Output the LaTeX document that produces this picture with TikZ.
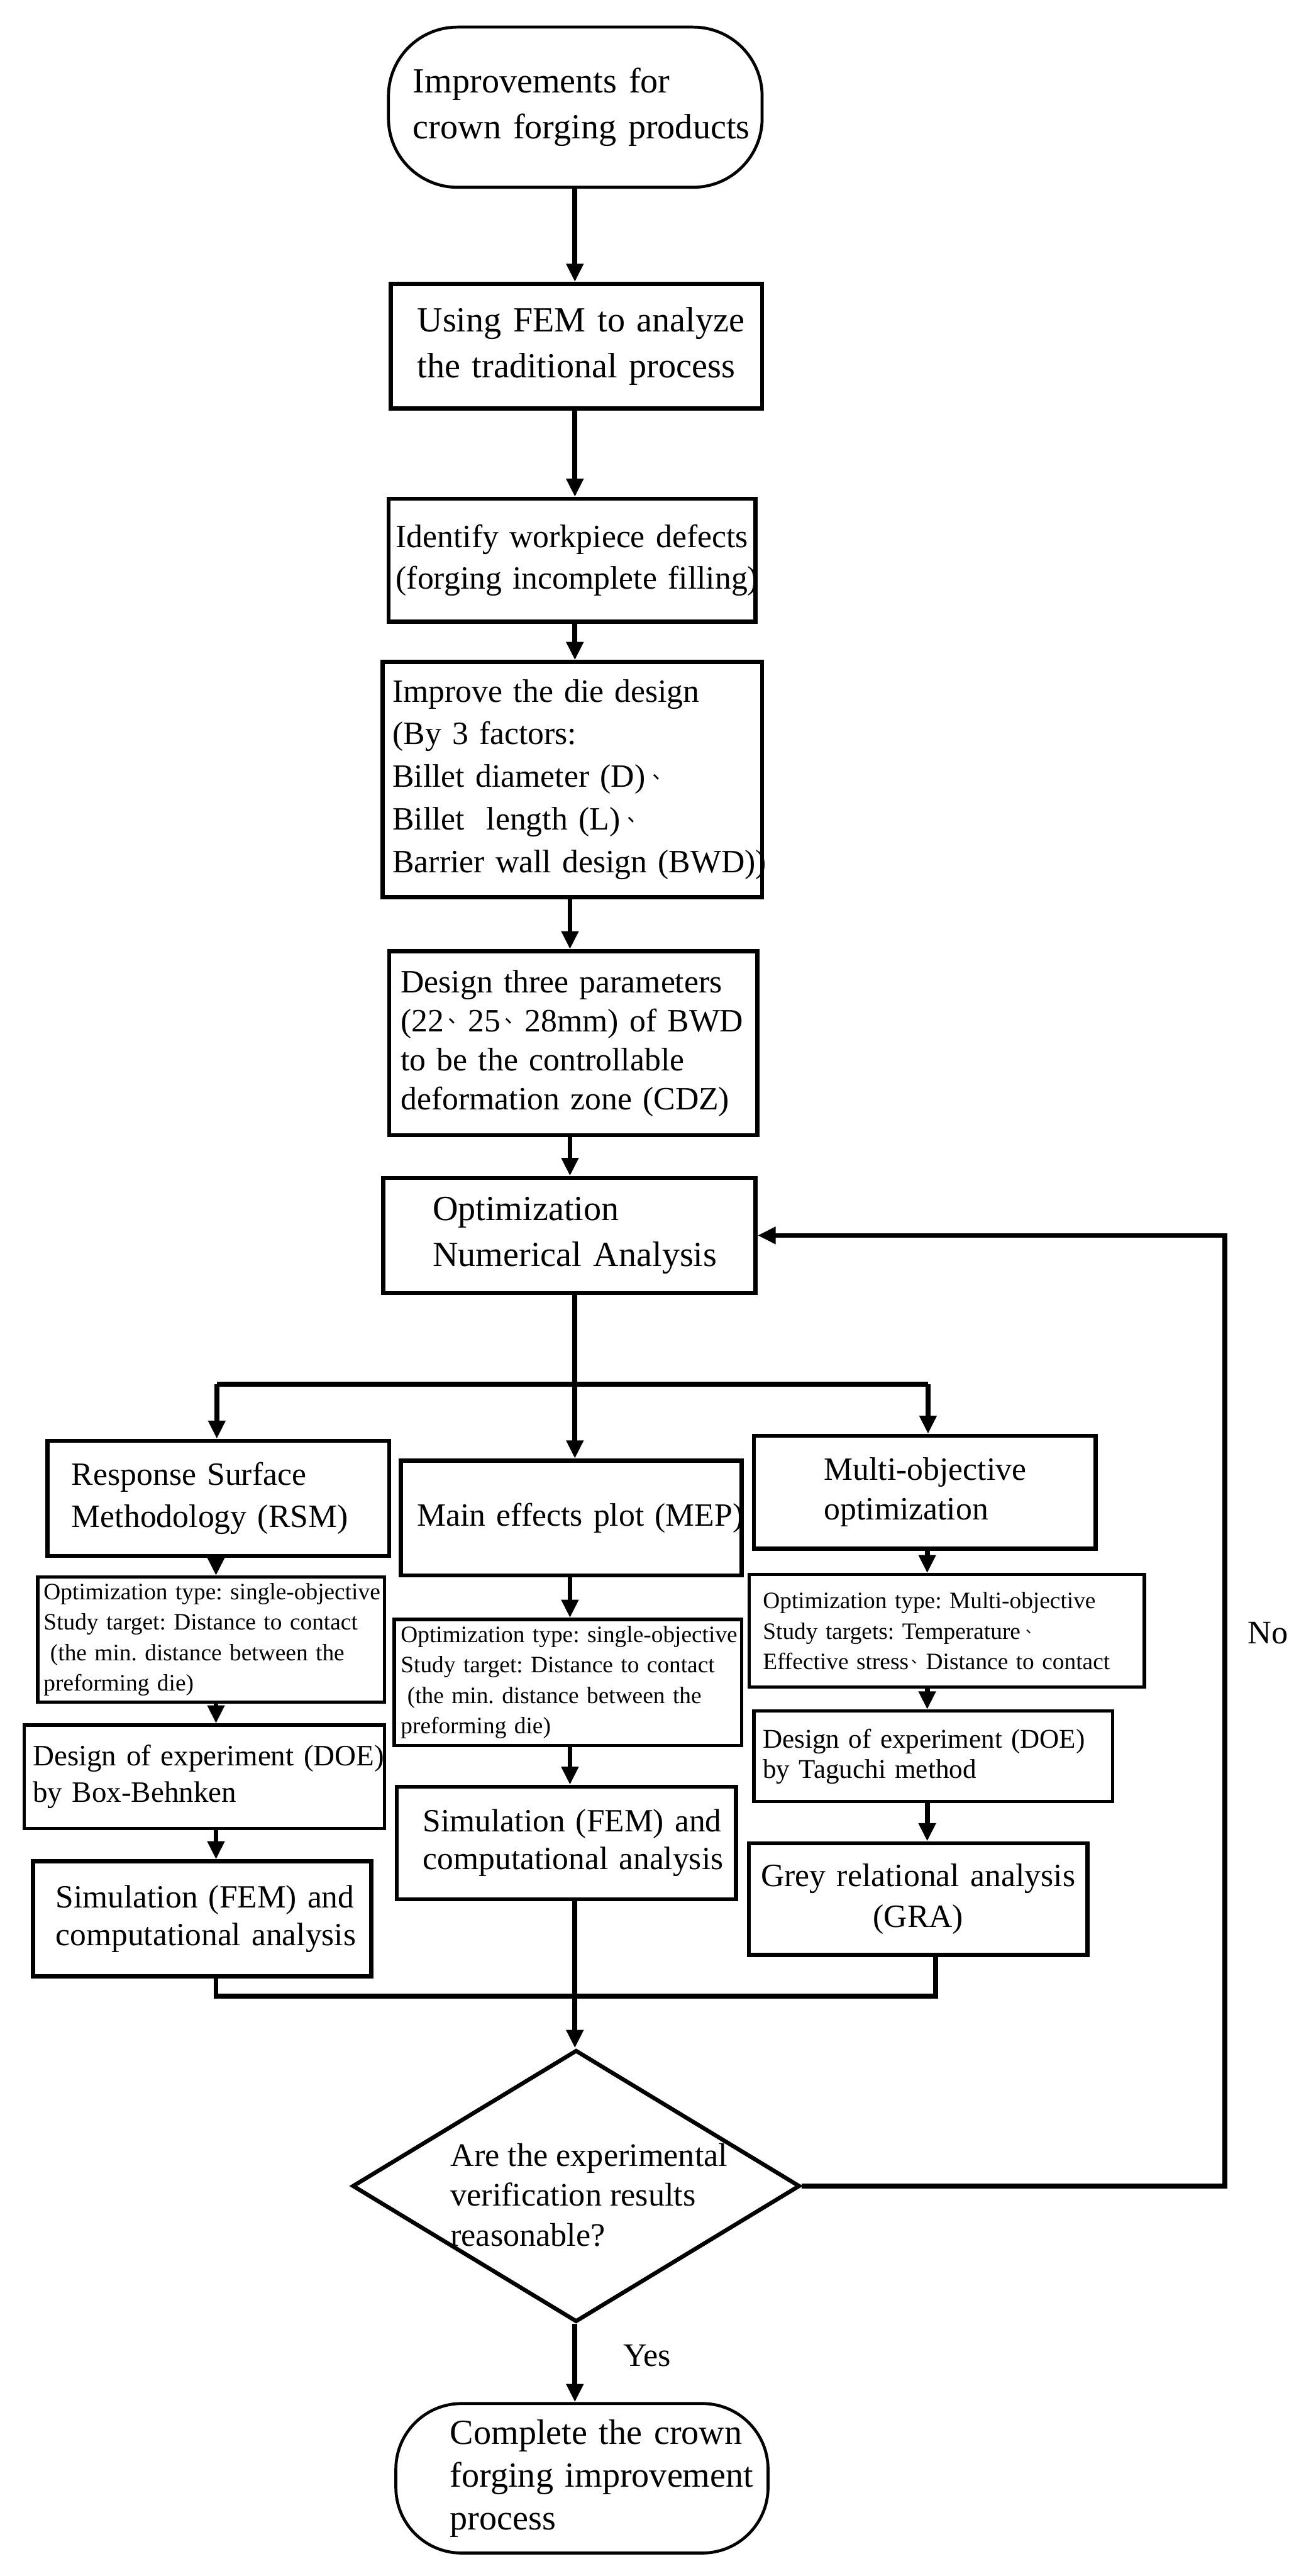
\documentclass[tikz,border=0pt]{standalone}
\usepackage{fontspec}
\setmainfont{Liberation Serif}
\newfontfamily\cjkfont{Noto Sans CJK SC}
\usetikzlibrary{arrows.meta,shapes.geometric}
\newcommand{\dun}{\hspace{0.12em}\raisebox{0.26em}{\cjkfont\fontsize{0.62em}{0.62em}\selectfont 、}}
\newcommand{\fA}{\fontsize{21.5}{28}\selectfont}
\newcommand{\fE}{\fontsize{21.5}{26}\selectfont}
\newcommand{\fB}{\fontsize{19.8}{25.5}\selectfont}
\newcommand{\fC}{\fontsize{19.8}{23.7}\selectfont}
\newcommand{\fS}{\fontsize{19.7}{23}\selectfont}
\newcommand{\fD}{\fontsize{14.3}{18.5}\selectfont}
\newcommand{\fR}{\fontsize{18}{22}\selectfont}
\newcommand{\fT}{\fontsize{16.5}{18.3}\selectfont}
\newcommand{\fQ}{\fontsize{20}{24.3}\selectfont}
\begin{document}
\frenchspacing
\begin{tikzpicture}[x=1pt,y=-1pt,
  box/.style={draw, line width=2.5pt, inner ysep=0pt, align=left},
  dbox/.style={draw, line width=2pt, inner ysep=0pt, align=left},
  term/.style={draw, line width=1.8pt, rounded corners=42pt, inner ysep=0pt, align=left},
  arr/.style={line width=3pt, -{Triangle[length=11pt,width=10pt]}},
  ln/.style={line width=3pt},
  lbl/.style={inner sep=0pt, font=\fQ}
]
\useasboundingbox (0,0) rectangle (798,1568);

% column coordinates
\coordinate (tr) at (350,0);
\coordinate (cL) at (131.5,0);
\coordinate (cM) at (347,0);
\coordinate (cR) at (564.5,0);
\coordinate (fb) at (745.7,0);
\coordinate (bl) at (132,842.5);
\coordinate (br) at (565,842.5);
\coordinate (jn) at (350,842.5);
\coordinate (mL) at (131.5,1215);
\coordinate (mR) at (569.5,1215);

% main column
\node[term, minimum width=227.5pt, minimum height=97.5pt, text width=197.5pt, inner xsep=15pt, font=\fA] (start) at (350.25,65.25)
  {\mbox{Improvements for}\\\mbox{crown forging products}};
\node[box, minimum width=226pt, minimum height=75.9pt, text width=194pt, inner xsep=16pt, font=\fA] (box2) at (351,210.75)
  {\mbox{Using FEM to analyze}\\\mbox{the traditional process}};
\node[box, minimum width=223.5pt, minimum height=74.7pt, text width=214.5pt, inner xsep=4.5pt, font=\fB] (box3) at (348.25,341)
  {\mbox{Identify workpiece defects}\\\mbox{(forging incomplete filling)}};
\node[box, minimum width=231pt, minimum height=143pt, text width=219pt, inner xsep=6pt, font=\fontsize{19.8}{26}\selectfont] (box4) at (348.5,474.5)
  {\mbox{Improve the die design}\\\mbox{(By 3 factors:}\\\mbox{Billet diameter (D)\hspace{0.1em}\dun}\\\mbox{Billet\ \ length (L)\hspace{0.1em}\dun}\\\mbox{Barrier wall design (BWD))}};
\node[box, minimum width=224pt, minimum height=112pt, text width=210pt, inner xsep=7pt, font=\fC] (box5) at (349,635)
  {\mbox{Design three parameters}\\\mbox{(22\dun 25\dun 28mm) of BWD}\\\mbox{to be the controllable}\\\mbox{deformation zone (CDZ)}};
\node[box, minimum width=226.6pt, minimum height=70pt, text width=166.6pt, inner xsep=30pt, font=\fA] (box6) at (346.7,752)
  {\mbox{Optimization}\\\mbox{Numerical Analysis}};

% left column (RSM)
\node[box, minimum width=208pt, minimum height=70pt, text width=178.8pt, inner xsep=14.6pt, font=\fB] (rsm) at (133,912)
  {\mbox{Response Surface}\\\mbox{Methodology (RSM)}};
\node[dbox, minimum width=211pt, minimum height=76pt, text width=203.8pt, inner xsep=3.6pt, font=\fD] (rsmd) at (128.5,998)
  {\mbox{Optimization type: single-objective}\\\mbox{Study target: Distance to contact}\\\mbox{\hspace*{4pt}(the min. distance between the}\\\mbox{preforming die)}};
\node[dbox, minimum width=219.3pt, minimum height=63pt, text width=208.7pt, inner xsep=5.3pt, font=\fR] (rsmdoe) at (124.35,1081.5)
  {\mbox{Design of experiment (DOE)}\\\mbox{by Box-Behnken}};
\node[box, minimum width=206pt, minimum height=70pt, text width=178pt, inner xsep=14pt, font=\fS] (rsmsim) at (123,1168)
  {\mbox{Simulation (FEM) and}\\\mbox{computational analysis}};

% middle column (MEP)
\node[box, minimum width=207.6pt, minimum height=70pt, text width=187.6pt, inner xsep=10pt, font=\fB] (mep) at (347.8,924)
  {\mbox{Main effects plot (MEP)}};
\node[dbox, minimum width=211.6pt, minimum height=76.8pt, text width=203.6pt, inner xsep=4pt, font=\fD] (mepd) at (345.8,1024.1)
  {\mbox{Optimization type: single-objective}\\\mbox{Study target: Distance to contact}\\\mbox{\hspace*{4pt}(the min. distance between the}\\\mbox{preforming die)}};
\node[box, minimum width=206.4pt, minimum height=68.4pt, text width=174.4pt, inner xsep=16pt, font=\fS] (mepsim) at (344.8,1121.8)
  {\mbox{Simulation (FEM) and}\\\mbox{computational analysis}};

% right column (multi-objective)
\node[box, minimum width=208pt, minimum height=68.6pt, text width=122.6pt, inner xsep=42.7pt, font=\fontsize{19.8}{24}\selectfont] (mo) at (563,908.3)
  {\mbox{Multi-objective}\\\mbox{optimization}};
\node[dbox, minimum width=240.7pt, minimum height=68.5pt, text width=223.7pt, inner xsep=8.5pt, font=\fD] (mod) at (576.35,992.75)
  {\mbox{Optimization type: Multi-objective}\\\mbox{Study targets: Temperature\hspace{0.1em}\dun}\\\mbox{Effective stress\dun Distance to contact}};
\node[dbox, minimum width=218.5pt, minimum height=55.2pt, text width=207.5pt, inner xsep=5.5pt, font=\fT] (modoe) at (568.25,1069.1)
  {\mbox{Design of experiment (DOE)}\\\mbox{by Taguchi method}};
\node[box, minimum width=206pt, minimum height=68pt, text width=196pt, inner xsep=5pt, align=center, font=\fontsize{19.8}{25}\selectfont] (gra) at (559,1156)
  {Grey relational analysis\\(GRA)};

% decision and end
\node[draw, diamond, line width=2.5pt, minimum width=272.5pt, minimum height=165.5pt, inner sep=0pt] (dec) at (350.75,1330.6) {};
\node[anchor=west, inner sep=0pt, align=left, font=\fQ] (dtxt) at (274,1336)
  {Are the experimental\\verification results\\reasonable?};
\node[term, rounded corners=40pt, minimum width=226.6pt, minimum height=91pt, text width=160.6pt, inner xsep=33pt, font=\fE] (end) at (354.3,1508.5)
  {\mbox{Complete the crown}\\\mbox{forging improvement}\\\mbox{process}};

\node[lbl] (no) at (772,994) {No};
\node[lbl] (yes) at (394,1434) {Yes};

% connectors: main column
\draw[arr] (tr |- start.south) -- (tr |- box2.north);
\draw[arr] (tr |- box2.south) -- (tr |- box3.north);
\draw[arr] (tr |- box3.south) -- (tr |- box4.north);
\draw[arr] (cM |- box4.south) -- (cM |- box5.north);
\draw[arr] (cM |- box5.south) -- (cM |- box6.north);

% branching
\draw[arr] (tr |- box6.south) -- (tr |- mep.north);
\draw[ln] (bl) -- (br);
\draw[arr] (bl) -- (bl |- rsm.north);
\draw[arr] (br) -- (br |- mo.north);

% left column arrows
\draw[arr] (cL |- rsm.south) -- (cL |- rsmd.north);
\draw[arr] (cL |- rsmd.south) -- (cL |- rsmdoe.north);
\draw[arr] (cL |- rsmdoe.south) -- (cL |- rsmsim.north);

% middle column arrows
\draw[arr] (cM |- mep.south) -- (cM |- mepd.north);
\draw[arr] (cM |- mepd.south) -- (cM |- mepsim.north);

% right column arrows
\draw[arr] (cR |- mo.south) -- (cR |- mod.north);
\draw[arr] (cR |- mod.south) -- (cR |- modoe.north);
\draw[arr] (cR |- modoe.south) -- (cR |- gra.north);

% merge
\draw[ln] (cL |- rsmsim.south) -- (mL) -- (mR) -- (mR |- gra.south);
\draw[arr] (tr |- mepsim.south) -- (tr |- dec.north);

% feedback
\draw[arr] (dec.east) -- (dec.east -| fb) -- (fb |- box6.east) -- (box6.east);

% yes
\draw[arr] (tr |- dec.south) -- (tr |- end.north);
\end{tikzpicture}
\end{document}
